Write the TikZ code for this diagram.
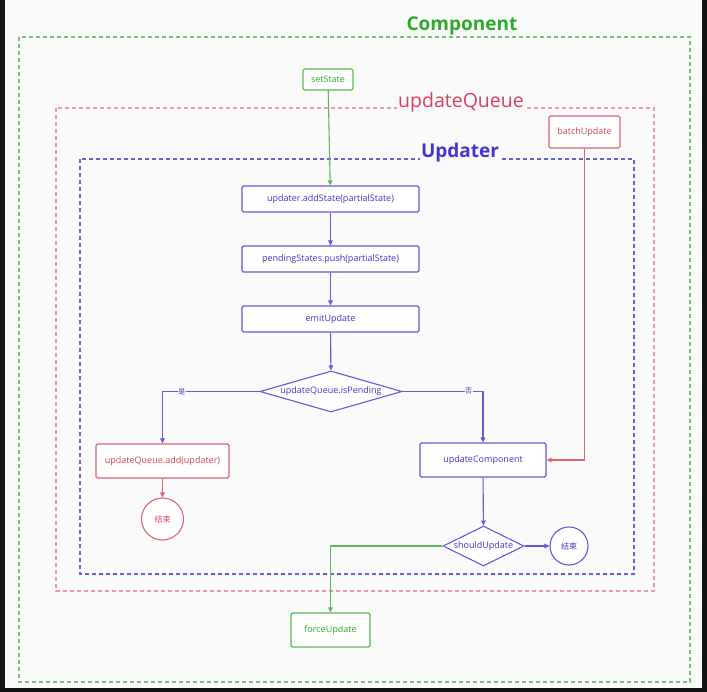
\documentclass[tikz,border=0pt]{standalone}
\usepackage{fontspec}
\setmainfont{Open Sans}
\newfontfamily\cjk{Noto Sans CJK SC}
\usetikzlibrary{shapes.geometric,arrows.meta}
\definecolor{bgc}{RGB}{250,250,250}
\definecolor{frame}{RGB}{20,20,20}
\definecolor{gtext}{RGB}{45,170,45}
\definecolor{gline}{RGB}{90,185,90}
\definecolor{gdash}{RGB}{120,190,120}
\definecolor{rtext}{RGB}{215,65,90}
\definecolor{rline}{RGB}{220,100,115}
\definecolor{rdash}{RGB}{240,150,165}
\definecolor{btext}{RGB}{65,55,205}
\definecolor{bline}{RGB}{100,90,215}
\definecolor{bdash}{RGB}{100,100,205}
\begin{document}
\begin{tikzpicture}[x=1pt,y=-1pt,
  boxbase/.style={rectangle,rounded corners=1.5pt,line width=1.1pt,inner sep=1pt,font=\fontsize{9}{11}\selectfont,fill=white},
  gbox/.style={boxbase,draw=gline,text=gtext},
  rbox/.style={boxbase,draw=rline,text=rtext},
  bbox/.style={boxbase,draw=bline,text=btext},
  bdia/.style={diamond,draw=bline,text=btext,line width=1.1pt,inner sep=0pt,fill=white,font=\fontsize{9}{11}\selectfont},
  endc/.style={circle,line width=1.1pt,inner sep=0pt,fill=white,font=\cjk\fontsize{8}{9}\selectfont},
  garrow/.style={draw=gline,line width=1.1pt,-{Triangle[length=5pt,width=4.5pt]}},
  rarrow/.style={draw=rline,line width=1.1pt,-{Triangle[length=5pt,width=4.5pt]}},
  barrow/.style={draw=bline,line width=1.1pt,-{Triangle[length=5pt,width=4.5pt]}},
  dashbox/.style={line width=1.1pt,dash pattern=on 4pt off 3pt},
  biglabel/.style={inner sep=1pt,fill=bgc,font=\fontsize{19.5}{22}\selectfont},
  ynlabel/.style={inner sep=0.5pt,fill=bgc,text=btext,font=\cjk\fontsize{7}{8}\selectfont}
]
\useasboundingbox (0,0) rectangle (707,692);
\fill[frame] (0,0) rectangle (707,692);
\fill[bgc] (5,0) rectangle (702,688);

% container frames
\draw[dashbox,draw=gdash] (19,37) rectangle (690,682);
\draw[dashbox,draw=rdash] (56,108) rectangle (654,591);
\draw[dashbox,draw=bdash] (80,159) rectangle (634,574);
\node[biglabel,text=gtext,fill=none,font=\bfseries\fontsize{19}{22}\selectfont] (lcomp) at (462,26) {Component};
\node[biglabel,text=rtext] (lqueue) at (461,102) {updateQueue};
\node[biglabel,text=btext,font=\bfseries\fontsize{19}{22}\selectfont] (lupd) at (460,153) {Updater};

% nodes
\node[gbox,minimum width=50,minimum height=21] (set) at (328,79.5) {setState};
\node[rbox,minimum width=71,minimum height=32] (batch) at (584.5,132) {batchUpdate};
\node[bbox,minimum width=177,minimum height=26] (add) at (330.5,199) {updater.addState(partialState)};
\node[bbox,minimum width=177,minimum height=26] (push) at (330.5,259) {pendingStates.push(partialState)};
\node[bbox,minimum width=177,minimum height=26] (emit) at (330.5,319) {emitUpdate};
\node[bdia,aspect=3.5,minimum width=142,minimum height=41] (isp) at (331,391.5) {updateQueue.isPending};
\node[rbox,minimum width=133,minimum height=34] (qadd) at (162.5,461) {updateQueue.add(updater)};
\node[endc,draw=rline,text=rtext,minimum size=42] (end1) at (162.5,519) {结束};
\node[bbox,minimum width=126,minimum height=34] (comp) at (483,460) {updateComponent};
\node[bdia,aspect=2,minimum width=81,minimum height=40] (should) at (483.5,546) {shouldUpdate};
\node[endc,draw=bline,text=btext,minimum size=38] (end2) at (569,546) {结束};
\node[gbox,minimum width=79,minimum height=34] (force) at (330.5,630) {forceUpdate};

% connectors
\draw[garrow] (set) -- (add);
\draw[barrow] (add) -- (push);
\draw[barrow] (push) -- (emit);
\draw[barrow] (emit) -- (isp);
\draw[barrow] (isp.west) -| node[ynlabel,pos=0.4] {是} (qadd.north);
\draw[rarrow] (qadd) -- (end1);
\draw[barrow] (isp.east) -| node[ynlabel,pos=0.41] {否} (comp.north);
\draw[rarrow] (batch.south) |- (comp.east);
\draw[barrow] (comp) -- (should);
\draw[barrow] (should) -- (end2);
\draw[garrow] (should.west) -| (force.north);
\end{tikzpicture}
\end{document}
